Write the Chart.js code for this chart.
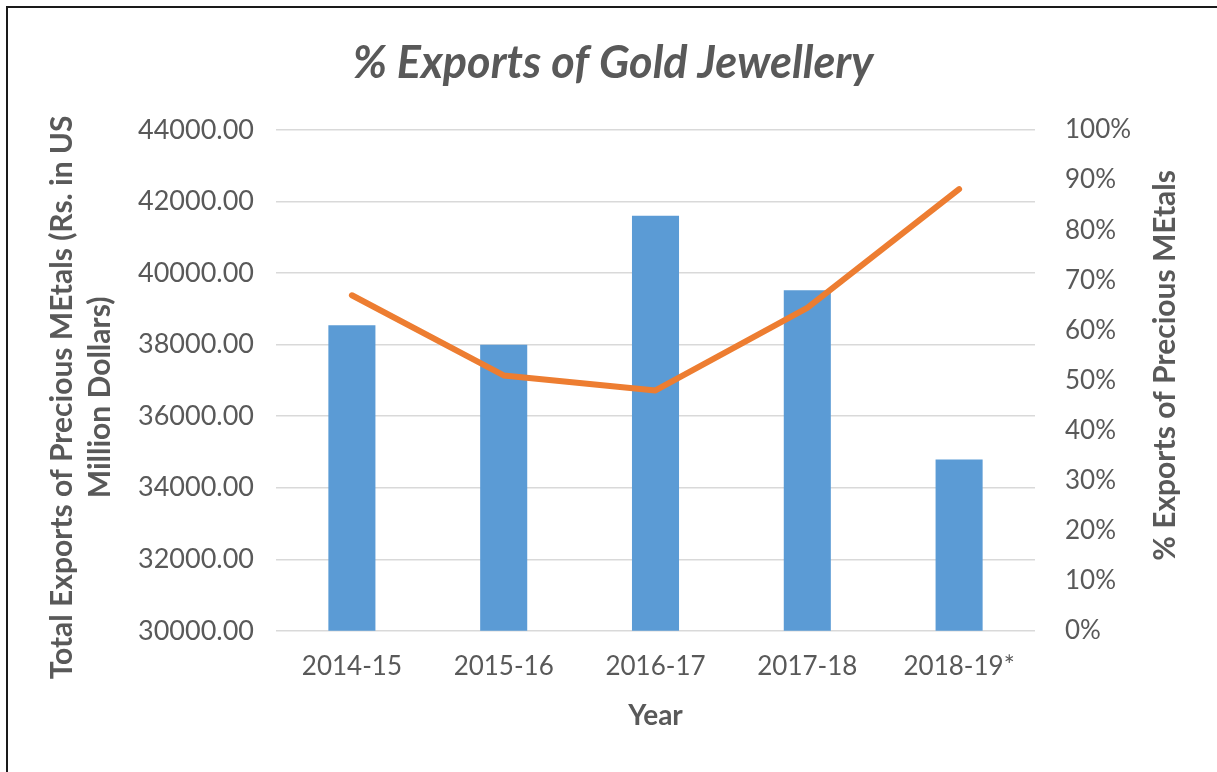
<!DOCTYPE html>
<html>
<head>
<meta charset="utf-8">
<title>% Exports of Gold Jewellery</title>
<script src="https://cdn.jsdelivr.net/npm/chart.js@4"></script>
<style>
  html, body { margin: 0; padding: 0; background: #fff; }
  #wrap { position: relative; width: 1217px; height: 772px; overflow: hidden; }
  #frame { position: absolute; left: 6px; top: 6px; width: 1300px; height: 900px;
           border-top: 2px solid #1a1a1a; border-left: 2px solid #1a1a1a; pointer-events: none; }
  canvas { position: absolute; left: 0; top: 0; }
</style>
</head>
<body>
<div id="wrap">
  <canvas id="goldChart" width="1217" height="772"></canvas>
  <div id="frame"></div>
</div>
<script>
const years = ["2014-15", "2015-16", "2016-17", "2017-18", "2018-19*"];
const totalExports = [38540, 38000, 41600, 39520, 34790];
const pctGold = [67.0, 51.0, 48.0, 64.5, 88.2];

const leftTitle = ["Total Exports of Precious MEtals (Rs. in US", "Million Dollars)"];
const rightTitle = "% Exports of Precious MEtals";

const blue = "#5b9bd5";
const orange = "#ed7d31";
const grey = "#595959";
const font = "Lato, 'Open Sans', sans-serif";

Chart.defaults.font.family = font;
Chart.defaults.color = grey;

// both value-axis titles read bottom-to-top, so draw them by hand
const axisTitles = {
  id: "axisTitles",
  afterDraw(chart) {
    const { ctx, chartArea: a } = chart;
    const midY = (a.top + a.bottom) / 2;
    ctx.save();
    ctx.fillStyle = grey;
    ctx.textAlign = "center";
    ctx.textBaseline = "middle";
    ctx.font = "bold 30px " + font;

    leftTitle.forEach((line, i) => {
      ctx.save();
      ctx.translate(a.left - 214 + i * 38, midY + 17);
      ctx.rotate(-Math.PI / 2);
      ctx.fillText(line, 0, 0);
      ctx.restore();
    });

    ctx.translate(a.right + 130, midY - 15);
    ctx.rotate(-Math.PI / 2);
    ctx.fillText(rightTitle, 0, 0);
    ctx.restore();
  },
};

new Chart(document.getElementById("goldChart"), {
  type: "bar",
  data: {
    labels: years,
    datasets: [
      {
        type: "line",
        label: "% Exports of Gold Jewellery",
        data: pctGold,
        yAxisID: "yPct",
        borderColor: orange,
        borderWidth: 6,
        borderCapStyle: "round",
        borderJoinStyle: "round",
        pointRadius: 0,
        tension: 0,
        order: 1,
      },
      {
        label: "Total Exports of Precious Metals",
        data: totalExports,
        yAxisID: "y",
        backgroundColor: blue,
        barPercentage: 0.31,
        categoryPercentage: 1,
        order: 2,
      },
    ],
  },
  plugins: [axisTitles],
  options: {
    responsive: false,
    animation: false,
    layout: { padding: { top: 36, left: 9, right: 0, bottom: 42 } },
    plugins: {
      legend: { display: false },
      tooltip: { enabled: false },
      title: {
        display: true,
        text: "% Exports of Gold Jewellery",
        color: grey,
        font: { size: 45, weight: "bold", style: "italic", lineHeight: 1.2 },
        padding: { top: 0, bottom: 40 },
      },
    },
    scales: {
      x: {
        grid: { display: false, drawTicks: false },
        border: { display: false },
        ticks: { font: { size: 26 }, color: grey, padding: 20 },
        title: {
          display: true,
          text: "Year",
          color: grey,
          font: { size: 28, weight: "bold", lineHeight: 1 },
          padding: { top: 0, bottom: 0 },
        },
      },
      y: {
        position: "left",
        min: 30000,
        max: 44000,
        afterFit: (s) => { s.width = 267; },
        grid: { color: "#d9d9d9", lineWidth: 1.5, drawTicks: false },
        border: { display: false },
        ticks: {
          stepSize: 2000,
          font: { size: 27 },
          color: grey,
          padding: 22,
          callback: (v) => v.toFixed(2),
        },
      },
      yPct: {
        position: "right",
        min: 0,
        max: 100,
        afterFit: (s) => { s.width = 182; },
        grid: { display: false, drawTicks: false },
        border: { display: false },
        ticks: {
          stepSize: 10,
          font: { size: 26 },
          color: grey,
          padding: 30,
          callback: (v) => v + "%",
        },
      },
    },
  },
});
</script>
</body>
</html>
